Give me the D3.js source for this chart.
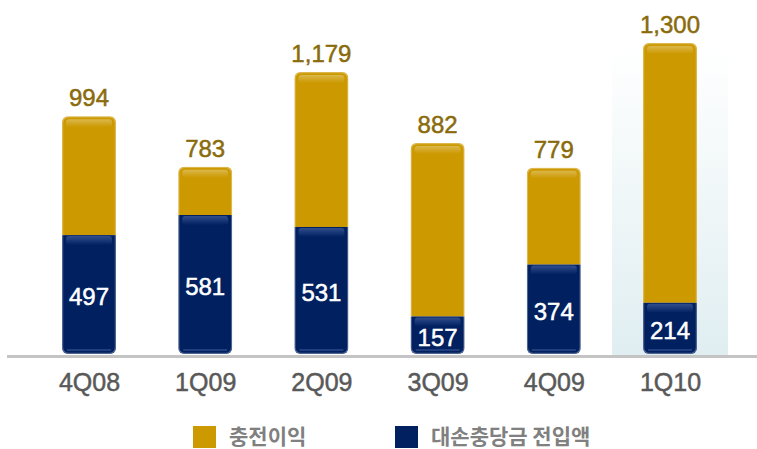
<!DOCTYPE html>
<html>
<head>
<meta charset="utf-8">
<script src="https://cdn.jsdelivr.net/npm/d3@7"></script>
<style>
  body { margin: 0; background: #fff; }
  svg { display: block; }
</style>
</head>
<body>
<div id="chart"></div>
<script>
// data
var quarters = ["4Q08", "1Q09", "2Q09", "3Q09", "4Q09", "1Q10"];
var provisionValues = [497, 581, 531, 157, 374, 214];   // 대손충당금 전입액 (navy, bottom)
var totalValues = [994, 783, 1179, 882, 779, 1300];     // 충전이익 total (label above)
var totalLabels = ["994", "783", "1,179", "882", "779", "1,300"];
var seriesNames = ["충전이익", "대손충당금 전입액"];
var highlightQuarter = "1Q10";

var svgWidth = 757;
var svgHeight = 449;

var gold = "#cc9900";
var navy = "#002060";

var svg = d3.select("#chart")
  .append("svg")
  .attr("width", svgWidth)
  .attr("height", svgHeight);

var defs = svg.append("defs");

var hlGrad = defs.append("linearGradient")
  .attr("id", "hlGrad")
  .attr("x1", 0).attr("y1", 0).attr("x2", 0).attr("y2", 1);
hlGrad.append("stop").attr("offset", "0%").attr("stop-color", "#ffffff");
hlGrad.append("stop").attr("offset", "100%").attr("stop-color", "#e0eef1");

// glossy overlay on top of each segment
var gloss = defs.append("linearGradient")
  .attr("id", "gloss")
  .attr("x1", 0).attr("y1", 0).attr("x2", 0).attr("y2", 1);
gloss.append("stop").attr("offset", "0%").attr("stop-color", "#ffffff").attr("stop-opacity", 0.3);
gloss.append("stop").attr("offset", "100%").attr("stop-color", "#ffffff").attr("stop-opacity", 0);

var navyGloss = defs.append("linearGradient")
  .attr("id", "navyGloss")
  .attr("x1", 0).attr("y1", 0).attr("x2", 0).attr("y2", 1);
navyGloss.append("stop").attr("offset", "0%").attr("stop-color", "#5a74b0").attr("stop-opacity", 0.55);
navyGloss.append("stop").attr("offset", "100%").attr("stop-color", "#5a74b0").attr("stop-opacity", 0);

var x = d3.scalePoint()
  .domain(quarters)
  .range([89, 670]);

var y = d3.scaleLinear()
  .domain([0, 1300])
  .range([354, 43]);

var barWidth = 54;

var data = quarters.map(function(q, i) {
  return { q: q, bottom: provisionValues[i], total: totalValues[i], label: totalLabels[i] };
});

// highlight behind the latest quarter
svg.append("rect")
  .attr("x", x(highlightQuarter) - 58)
  .attr("y", y(1300) + 2)
  .attr("width", 116)
  .attr("height", y(0) - y(1300))
  .attr("fill", "url(#hlGrad)");

// baseline
svg.append("rect")
  .attr("x", 7)
  .attr("y", y(0) + 1)
  .attr("width", svgWidth - 7)
  .attr("height", 3)
  .attr("fill", "#c4c4c4");

var bars = svg.selectAll(".bar")
  .data(data)
  .enter()
  .append("g")
  .attr("class", "bar");

data.forEach(function(d, i) {
  defs.append("clipPath")
    .attr("id", "clip" + i)
    .append("rect")
    .attr("x", x(d.q) - barWidth / 2)
    .attr("y", y(d.total))
    .attr("width", barWidth)
    .attr("height", y(0) - y(d.total))
    .attr("rx", 6);
});

bars.each(function(d, i) {
  var g = d3.select(this).append("g").attr("clip-path", "url(#clip" + i + ")");
  var x0 = x(d.q) - barWidth / 2;

  // gold top part
  g.append("rect")
    .attr("x", x0)
    .attr("y", y(d.total))
    .attr("width", barWidth)
    .attr("height", y(d.bottom) - y(d.total))
    .attr("fill", gold);
  g.append("rect")
    .attr("x", x0 + 4)
    .attr("y", y(d.total) + 3)
    .attr("width", barWidth - 8)
    .attr("height", 8)
    .attr("rx", 3)
    .attr("fill", "url(#gloss)");

  // navy bottom part
  g.append("rect")
    .attr("x", x0)
    .attr("y", y(d.bottom))
    .attr("width", barWidth)
    .attr("height", y(0) - y(d.bottom))
    .attr("fill", navy);
  g.append("rect")
    .attr("x", x0 + 4)
    .attr("y", y(d.bottom) + 1)
    .attr("width", barWidth - 8)
    .attr("height", 9)
    .attr("rx", 3)
    .attr("fill", "url(#navyGloss)");
  g.append("rect")
    .attr("x", x0 + 5)
    .attr("y", y(0) - 5)
    .attr("width", barWidth - 10)
    .attr("height", 2)
    .attr("fill", "#4a64a0")
    .attr("opacity", 0.45);

  // soft edge
  g.append("rect")
    .attr("x", x0 + 0.5)
    .attr("y", y(d.total) + 0.5)
    .attr("width", barWidth - 1)
    .attr("height", y(0) - y(d.total) - 1)
    .attr("rx", 6)
    .attr("fill", "none")
    .attr("stroke", "#ffffff")
    .attr("stroke-opacity", 0.3)
    .attr("stroke-width", 1.5);
});

// total labels
svg.selectAll(".totalText")
  .data(data)
  .enter()
  .append("text")
  .attr("x", d => x(d.q))
  .attr("y", d => y(d.total) - 10)
  .attr("text-anchor", "middle")
  .attr("font-family", "Liberation Sans, Arial, sans-serif")
  .attr("font-size", "24px")
  .attr("fill", "#8a6b0c")
  .attr("stroke", "#8a6b0c")
  .attr("stroke-width", 0.5)
  .text(d => d.label);

// inner labels
svg.selectAll(".innerText")
  .data(data)
  .enter()
  .append("text")
  .attr("x", d => x(d.q))
  .attr("y", d => (y(d.bottom) + y(0)) / 2 + 2)
  .attr("dy", "0.35em")
  .attr("text-anchor", "middle")
  .attr("font-family", "Liberation Sans, Arial, sans-serif")
  .attr("font-size", "24px")
  .attr("fill", "#ffffff")
  .attr("stroke", "#ffffff")
  .attr("stroke-width", 0.5)
  .text(d => d.bottom);

// category axis
var xAxis = svg.append("g")
  .attr("transform", `translate(0, ${y(0) + 4})`)
  .call(d3.axisBottom(x).tickSize(0));
xAxis.select(".domain").remove();
xAxis.selectAll("text")
  .attr("y", 33)
  .attr("dy", null)
  .attr("font-family", "Liberation Sans, Arial, sans-serif")
  .attr("font-size", "25px")
  .attr("fill", "#595959")
  .attr("stroke", "#595959")
  .attr("stroke-width", 0.5);

// legend
var legend = svg.append("g");
var legendX = [193, 395];
var legendColors = [gold, navy];
seriesNames.forEach(function(name, i) {
  legend.append("rect")
    .attr("x", legendX[i])
    .attr("y", 426)
    .attr("width", 23)
    .attr("height", 22)
    .attr("fill", legendColors[i]);
  legend.append("text")
    .attr("x", legendX[i] + 36)
    .attr("y", 437)
    .attr("dy", "0.35em")
    .attr("font-family", "Noto Sans CJK KR, sans-serif")
    .attr("font-weight", "bold")
    .attr("font-size", "21px")
    .attr("fill", "#808080")
    .text(name);
});
</script>
</body>
</html>
